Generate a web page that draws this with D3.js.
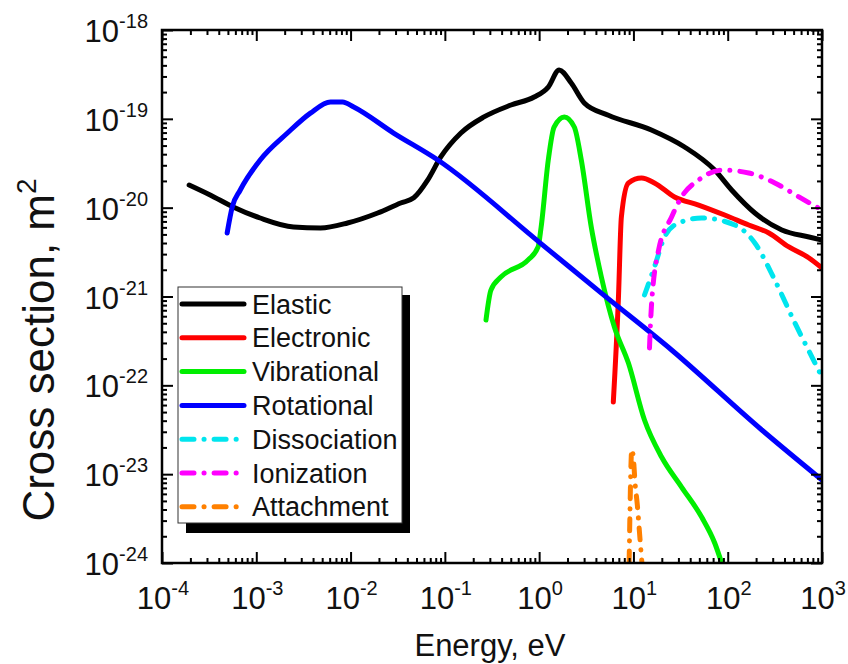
<!DOCTYPE html>
<html>
<head>
<meta charset="utf-8">
<script src="https://cdn.jsdelivr.net/npm/d3@7"></script>
<style>
  html, body { margin: 0; padding: 0; background: #fff; }
  svg { display: block; font-family: "Liberation Sans", Arial, Helvetica, sans-serif; }
</style>
</head>
<body>
<svg id="chart" width="848" height="664"></svg>
<script>
// Cross sections [energy (eV), sigma (m^2)]
const elastic = [[1.94e-4,1.80e-20],[3.24e-4,1.39e-20],[5.69e-4,1.02e-20],[1.10e-3,7.65e-21],[2.48e-3,6.06e-21],[4.80e-3,5.90e-21],[9.29e-3,6.72e-21],[1.94e-2,8.71e-21],[3.40e-2,1.13e-20],[4.68e-2,1.29e-20],[6.59e-2,2.05e-20],[9.05e-2,3.72e-20],[0.148,6.92e-20],[0.260,1.05e-19],[0.503,1.43e-19],[0.885,1.76e-19],[1.25,2.28e-19],[1.63,3.55e-19],[2.19,2.53e-19],[3.01,1.51e-19],[5.42,1.10e-19],[15.5,7.49e-20],[34.9,4.82e-20],[72.8,2.65e-20],[110,1.58e-20],[194,8.71e-21],[375,5.61e-21],[728,4.68e-21],[1000,4.33e-21]];
const electronic = [[6.12,6.49e-23],[6.92,9.1e-22],[7.45,7.85e-21],[8.85,1.90e-20],[12.2,2.16e-20],[16.7,1.90e-20],[27.3,1.32e-20],[49.1,1.07e-20],[92.9,8.26e-21],[167,6.38e-21],[273,5.19e-21],[446,3.61e-21],[728,2.71e-21],[1000,2.09e-21]];
const vibrational = [[0.273,5.43e-22],[0.308,1.18e-21],[0.394,1.66e-21],[0.764,2.58e-21],[0.975,3.61e-21],[1.05,6.06e-21],[1.25,3.44e-20],[1.44,8.09e-20],[1.85,1.05e-19],[2.36,8.09e-20],[2.80,3.44e-20],[3.57,6.06e-21],[4.57,1.66e-21],[6.28,4.54e-22],[8.85,1.78e-22],[13.1,4.07e-23],[19.9,1.56e-23],[32.4,7.16e-24],[52.9,3.29e-24],[72.8,1.68e-24],[86.3,1.0e-24]];
const rotational = [[4.91e-4,5.19e-21],[5.56e-4,1.02e-20],[6.76e-4,1.58e-20],[1.10e-3,3.44e-20],[2.14e-3,6.92e-20],[3.75e-3,1.16e-19],[6.12e-3,1.55e-19],[8.22e-3,1.55e-19],[1.08e-2,1.36e-19],[2.86e-2,6.92e-20],[8.43e-2,3.44e-20],[1.0,4.1e-21],[4.57,1.09e-21],[25.4,2.50e-22],[230,3.14e-23],[1000,8.59e-24]];
const dissociation = [[13.1,1.04e-21],[16.7,2.15e-21],[21.4,4.68e-21],[30.1,6.72e-21],[52.9,7.65e-21],[119,6.38e-21],[194,4.00e-21],[316,1.53e-21],[516,5.03e-22],[783,2.08e-22],[1000,1.24e-22]];
const ionization = [[14.8,2.63e-22],[15.5,7.62e-22],[18.5,3.34e-21],[25.4,7.85e-21],[32.4,1.32e-20],[49.1,2.05e-20],[86.3,2.65e-20],[167,2.46e-20],[316,1.90e-20],[569,1.32e-20],[1000,9.42e-21]];
const attachment = [[9.0,1.0e-24],[9.2,4e-24],[9.4,1.2e-23],[9.6,1.9e-23],[10.0,1.5e-23],[10.4,8e-24],[11.0,4.5e-24],[11.6,2.2e-24],[12.3,1.0e-24]];

const seriesNames = ["Elastic","Electronic","Vibrational","Rotational","Dissociation","Ionization","Attachment"];
const seriesData = [elastic, electronic, vibrational, rotational, dissociation, ionization, attachment];
const seriesColors = ["#000000","#ff0000","#00ee00","#0000ff","#00e5ee","#ff00ff","#ff8000"];
const seriesDashed = [false,false,false,false,true,true,true];

const xExponents = [-4,-3,-2,-1,0,1,2,3];
const yExponents = [-24,-23,-22,-21,-20,-19,-18];
const xTitle = "Energy, eV";
const yTitle = "Cross section, m";

const svg = d3.select("#chart");
const L = 162, R = 822, T = 30, B = 563;
const x = d3.scaleLog().domain([1e-4, 1e3]).range([L, R]);
const y = d3.scaleLog().domain([1e-24, 1e-18]).range([B, T]);

const xMajor = xExponents.map(e => Math.pow(10, e));
const yMajor = yExponents.map(e => Math.pow(10, e));
function minors(exps) {
  const out = [];
  for (let i = 0; i < exps.length - 1; i++)
    for (let k = 2; k <= 9; k++) out.push(k * Math.pow(10, exps[i]));
  return out;
}
const xMinor = minors(xExponents), yMinor = minors(yExponents);

svg.append("clipPath").attr("id", "plotClip")
  .append("rect").attr("x", L).attr("y", T).attr("width", R - L).attr("height", B - T);

// curves
const line = d3.line().x(d => x(d[0])).y(d => y(d[1])).curve(d3.curveMonotoneX);
const plot = svg.append("g").attr("clip-path", "url(#plotClip)");
seriesData.forEach((data, i) => {
  plot.append("path")
    .attr("d", line(data))
    .attr("fill", "none")
    .attr("stroke", seriesColors[i])
    .attr("stroke-width", 5)
    .attr("stroke-linecap", "round")
    .attr("stroke-linejoin", "round")
    .attr("stroke-dasharray", seriesDashed[i] ? "12,10,0.1,10" : null);
});

// ticks on all four sides, pointing inward
function tickAxis(axisFn, scale, vals, size, transform) {
  const g = svg.append("g").attr("transform", transform)
    .call(axisFn(scale).tickValues(vals).tickSize(size).tickFormat(() => ""));
  g.select(".domain").remove();
  g.selectAll(".tick line").attr("stroke", "#000").attr("stroke-width", 2);
  return g;
}
tickAxis(d3.axisBottom, x, xMajor, -11, `translate(0,${B})`);
tickAxis(d3.axisBottom, x, xMinor, -5, `translate(0,${B})`);
tickAxis(d3.axisTop, x, xMajor, -11, `translate(0,${T})`);
tickAxis(d3.axisTop, x, xMinor, -5, `translate(0,${T})`);
tickAxis(d3.axisLeft, y, yMajor, -11, `translate(${L},0)`);
tickAxis(d3.axisLeft, y, yMinor, -5, `translate(${L},0)`);
tickAxis(d3.axisRight, y, yMajor, -11, `translate(${R},0)`);
tickAxis(d3.axisRight, y, yMinor, -5, `translate(${R},0)`);

// frame
svg.append("rect").attr("x", L).attr("y", T).attr("width", R - L).attr("height", B - T)
  .attr("fill", "none").attr("stroke", "#000").attr("stroke-width", 2.5);

// tick labels 10^n
function powLabel(g, exp) {
  g.append("tspan").text("10");
  g.append("tspan").attr("dy", -14).attr("font-size", 20).text(String(exp));
}
xExponents.forEach(e => {
  const t = svg.append("text").attr("x", x(Math.pow(10, e)) + 1).attr("y", 609)
    .attr("text-anchor", "middle").attr("font-size", 31).attr("fill", "#111");
  powLabel(t, e);
});
yExponents.forEach(e => {
  const t = svg.append("text").attr("x", 148).attr("y", y(Math.pow(10, e)) + 12)
    .attr("text-anchor", "end").attr("font-size", 31).attr("fill", "#111");
  powLabel(t, e);
});

// axis titles
svg.append("text").attr("x", 490).attr("y", 656).attr("text-anchor", "middle")
  .attr("font-size", 31).attr("fill", "#111").text(xTitle);
const yt = svg.append("text").attr("transform", "translate(54,350) rotate(-90)")
  .attr("text-anchor", "middle").attr("font-size", 44).attr("fill", "#111");
yt.append("tspan").text(yTitle);
yt.append("tspan").attr("dy", -18).attr("font-size", 28).text("2");

// legend
const lg = svg.append("g");
lg.append("rect").attr("x", 186).attr("y", 295).attr("width", 224).attr("height", 238).attr("fill", "#000");
lg.append("rect").attr("x", 178).attr("y", 287).attr("width", 224).attr("height", 236)
  .attr("fill", "#fff").attr("stroke", "#333").attr("stroke-width", 1);
seriesNames.forEach((name, i) => {
  const cy = 304 + i * 33.8;
  lg.append("line").attr("x1", 182).attr("x2", 244).attr("y1", cy).attr("y2", cy)
    .attr("stroke", seriesColors[i]).attr("stroke-width", 5).attr("stroke-linecap", "round")
    .attr("stroke-dasharray", seriesDashed[i] ? "12,10,0.1,10" : null);
  lg.append("text").attr("x", 252).attr("y", cy + 9.5).attr("font-size", 27)
    .attr("fill", "#111").text(name);
});
</script>
</body>
</html>
